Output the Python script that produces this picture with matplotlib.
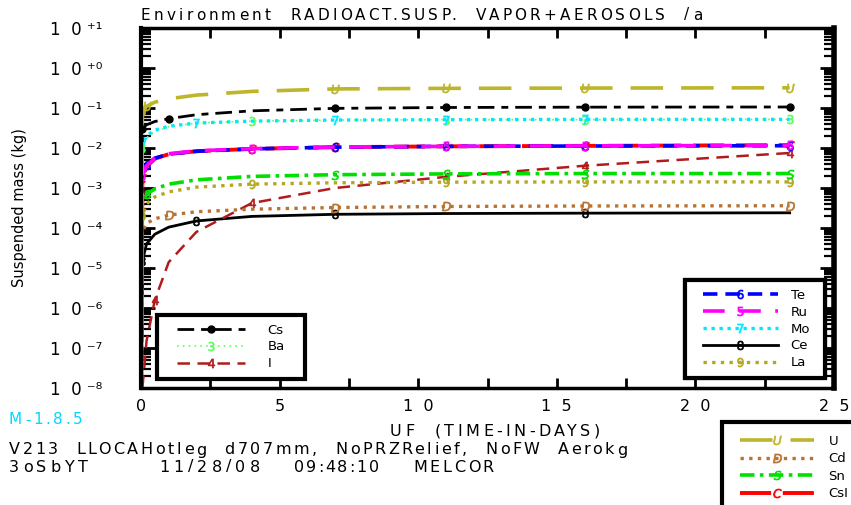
import math
import matplotlib
matplotlib.use("Agg")
import matplotlib.pyplot as plt
from matplotlib.ticker import FixedLocator, FuncFormatter, LogLocator, MultipleLocator, NullFormatter
from matplotlib.font_manager import FontProperties
from matplotlib.lines import Line2D
from matplotlib.legend_handler import HandlerLine2D
from matplotlib.patches import Rectangle

# ---------------- data ----------------
t = [0.0, 0.05, 0.2, 0.5, 1.0, 2.0, 4.0, 7.0, 11.0, 16.0, 23.4]

U   = [1e-9, 0.08, 0.11, 0.14, 0.17, 0.21, 0.26, 0.30, 0.31, 0.315, 0.32]
Cs  = [1e-9, 0.030, 0.038, 0.046, 0.054, 0.068, 0.085, 0.098, 0.103, 0.105, 0.106]
Mo  = [1e-9, 0.012, 0.020, 0.028, 0.035, 0.042, 0.047, 0.050, 0.051, 0.052, 0.052]
Ba  = [1e-9, 0.010, 0.018, 0.026, 0.034, 0.042, 0.047, 0.050, 0.051, 0.051, 0.052]
Te  = [1e-9, 2.2e-3, 3.8e-3, 5.6e-3, 7.0e-3, 8.3e-3, 9.5e-3, 0.0105, 0.011, 0.0112, 0.0114]
Ru  = [1e-9, 2.0e-3, 3.6e-3, 5.5e-3, 7.2e-3, 8.5e-3, 9.6e-3, 0.0106, 0.011, 0.0113, 0.0116]
CsI = [1e-9, 1.8e-3, 3.4e-3, 5.4e-3, 7.0e-3, 8.3e-3, 9.5e-3, 0.0105, 0.011, 0.0113, 0.0118]
Sn  = [1e-9, 4e-4, 7e-4, 9.5e-4, 1.25e-3, 1.6e-3, 1.95e-3, 2.15e-3, 2.25e-3, 2.3e-3, 2.3e-3]
La  = [1e-9, 2e-4, 4e-4, 6e-4, 8e-4, 1.05e-3, 1.25e-3, 1.35e-3, 1.4e-3, 1.42e-3, 1.42e-3]
Cd  = [1e-9, 8e-5, 1.3e-4, 1.7e-4, 2.1e-4, 2.55e-4, 2.95e-4, 3.25e-4, 3.45e-4, 3.55e-4, 3.6e-4]
Ce  = [1e-9, 1.5e-5, 4e-5, 7e-5, 1.05e-4, 1.5e-4, 1.95e-4, 2.2e-4, 2.3e-4, 2.35e-4, 2.4e-4]
I   = [1e-9, 1e-8, 1.5e-7, 1.6e-6, 1.4e-5, 8e-5, 4.2e-4, 1.0e-3, 1.9e-3, 3.6e-3, 7.5e-3]

y_ticks_exp = list(range(-8, 2))

title_text = "Environment  RADIOACT.SUSP.  VAPOR+AEROSOLS  /a"
xlabel_text = "UF  (TIME-IN-DAYS)"
ylabel_text = "Suspended mass (kg)"
version_text = "M-1.8.5"
line1_text = "V213  LLOCAHotleg  d707mm,  NoPRZRelief,  NoFW  Aerokg"
line2_words = ["3oSbYT", "11/28/08", "09:48:10", "MELCOR"]

# ---------------- styles ----------------
styles = {
    "U":   dict(color="#bdb52a", lw=2.6, dashes=[9, 5], marker="$U$", mk=(0.02, 0.197)),
    "Cs":  dict(color="black", lw=2.0, dashes=[6, 2.5, 2.5, 2.5], marker="o", mk=(0.03, 0.197)),
    "Mo":  dict(color="#00e8ff", lw=2.4, dashes=[1, 1.4], marker="$7$", mk=(0.06, 0.197)),
    "Ba":  dict(color="#5dff5d", lw=1.2, dashes=[1, 2.5], marker="$3$", mk=(0.12, 0.197)),
    "Te":  dict(color="#0000ff", lw=2.6, dashes=[4, 2.2], marker="$6$", mk=(0.14, 0.197)),
    "Ru":  dict(color="#ff00ff", lw=2.6, dashes=[6, 4], marker="$5$", mk=(0.08, 0.197)),
    "CsI": dict(color="#ff0000", lw=2.8, dashes=[8, 3], marker="$C$", mk=(0.05, 0.197)),
    "Sn":  dict(color="#00e000", lw=2.6, dashes=[4, 1.5, 1, 1.5], marker="$S$", mk=(0.10, 0.197)),
    "La":  dict(color="#b3a820", lw=2.4, dashes=[1, 1.6], marker="$9$", mk=(0.04, 0.197)),
    "Cd":  dict(color="#b87333", lw=2.4, dashes=[1, 1.6], marker="$D$", mk=(0.09, 0.197)),
    "Ce":  dict(color="black", lw=2.0, dashes=None, marker="$8$", mk=(0.13, 0.197)),
    "I":   dict(color="#b01c1c", lw=1.8, dashes=[5, 3], marker="$4$", mk=(0.15, 0.197)),
}
series = {"U": U, "Cs": Cs, "Mo": Mo, "Ba": Ba, "Te": Te, "Ru": Ru, "CsI": CsI,
          "Sn": Sn, "La": La, "Cd": Cd, "Ce": Ce, "I": I}

W, H = 851, 505
AX_L, AX_R, AX_T, AX_B = 141, 834, 28, 388
plt.rcParams["font.family"] = ["DejaVu Sans"]
fig = plt.figure(figsize=(W / 100, H / 100), dpi=100)
ax = fig.add_axes([AX_L / W, 1 - AX_B / H, (AX_R - AX_L) / W, (AX_B - AX_T) / H])

handles = {}
for name in ["Ce", "I", "Cd", "La", "Sn", "CsI", "Te", "Ru", "Ba", "Mo", "Cs", "U"]:
    s = styles[name]
    ln, = ax.plot(t, series[name], color=s["color"], lw=s["lw"],
                  marker=s["marker"], markersize=6.5 if s["marker"] != "o" else 5,
                  markevery=s["mk"], markeredgewidth=0.5 if s["marker"] != "o" else 1,
                  label=name)
    if s["dashes"] is not None:
        ln.set_dashes(s["dashes"])
    handles[name] = ln

ax.set_yscale("log")
ax.set_ylim(1e-8, 10)
ax.set_xlim(0, 25)

SUP = {"0": "\u2070", "1": "\u00b9", "2": "\u00b2", "3": "\u00b3", "4": "\u2074",
       "5": "\u2075", "6": "\u2076", "7": "\u2077", "8": "\u2078", "9": "\u2079",
       "+": "\u207a", "-": "\u207b"}

ax.yaxis.set_major_locator(FixedLocator([10.0 ** e for e in y_ticks_exp]))
def yfmt(v, pos):
    e = int(round(math.log10(v)))
    s = ("+%d" % e) if e >= 0 else ("-%d" % (-e))
    return "1  0 " + "".join(SUP[c] for c in s)
ax.yaxis.set_major_formatter(FuncFormatter(yfmt))
ax.yaxis.set_minor_locator(LogLocator(base=10, subs=range(2, 10), numticks=100))
ax.yaxis.set_minor_formatter(NullFormatter())

ax.xaxis.set_major_locator(MultipleLocator(2.5))
def xfmt(v, pos):
    if abs(v - round(v)) < 1e-6 and int(round(v)) % 5 == 0:
        return "  ".join(str(int(round(v))))
    return ""
ax.xaxis.set_major_formatter(FuncFormatter(xfmt))

ax.tick_params(axis="both", which="both", direction="in", top=True, right=True, colors="black")
ax.tick_params(axis="x", which="major", length=7, width=2, labelsize=11.5, pad=8)
ax.tick_params(axis="y", which="major", length=10, width=2, labelsize=12, pad=28)
ax.tick_params(axis="y", which="minor", length=7, width=1.6)
for sp in ax.spines.values():
    sp.set_linewidth(2.5)
ax.spines["right"].set_linewidth(4)
ax.spines["left"].set_linewidth(3)

ax.set_ylabel(ylabel_text, fontsize=10.5)
ax.yaxis.set_label_coords(-(AX_L - 27) / (AX_R - AX_L), 0.5)

renderer = fig.canvas.get_renderer()

def tracked(s, x0, x1, yc, size, color="black"):
    prop = FontProperties(family="DejaVu Sans", size=size)
    def w(sub):
        if not sub:
            return 0.0
        return renderer.get_text_width_height_descent(sub, prop, ismath=False)[0]
    full = w(s)
    n = len(s)
    extra = (x1 - x0 - full) / max(n - 1, 1)
    for i, ch in enumerate(s):
        if ch == " ":
            continue
        pos = w(s[:i] + ch) - w(ch)
        x = x0 + pos + i * extra
        fig.text(x / W, 1 - yc / H, ch, fontproperties=prop, va="center", ha="left", color=color)

tracked(title_text, 141, 702, 15, 11)
tracked(xlabel_text, 390, 600, 431, 11.5)
tracked(version_text, 9, 83, 420, 11, color="#00d8ff")
tracked(line1_text, 9, 627, 450, 11.5)
for word, (x0, x1) in zip(line2_words, [(9, 88), (159, 260), (294, 379), (413, 494)]):
    tracked(word, x0, x1, 467, 11.5)

FS = 9.5
FS_PX = FS * 100 / 72

def make_legend(target, names, box, transform, loc, xpad_px, hl_px, htp_px,
                expand=True, frame=True, spacing=0.3):
    kw = dict(mode="expand") if expand else {}
    leg = target.legend([handles[n] for n in names], names, frameon=frame,
                        fancybox=False, edgecolor="black", framealpha=1,
                        handlelength=hl_px / FS_PX, handletextpad=htp_px / FS_PX, numpoints=1,
                        fontsize=FS, borderpad=0.65, labelspacing=spacing,
                        borderaxespad=0, loc=loc,
                        bbox_to_anchor=box, bbox_transform=transform,
                        handler_map={Line2D: HandlerLine2D(xpad=xpad_px / FS_PX)}, **kw)
    if frame:
        leg.get_frame().set_linewidth(3)
    return leg

def ax_box(x0, x1, ybottom):
    return ((x0 - AX_L) / (AX_R - AX_L), (AX_B - ybottom) / (AX_B - AX_T),
            (x1 - x0) / (AX_R - AX_L), 0.0)

leg1 = make_legend(ax, ["Cs", "Ba", "I"], ax_box(157, 305, 379), ax.transAxes,
                   "lower left", 11, 79, 23)
ax.add_artist(leg1)
leg2 = make_legend(ax, ["Te", "Ru", "Mo", "Ce", "La"], ax_box(685, 825, 378), ax.transAxes,
                   "lower left", 9, 84, 13)
ax.add_artist(leg2)

# third legend sits partly outside the figure (cut at right and bottom edges)
fig.patches.append(Rectangle((722 / W, -0.1), 0.3, (1 - 422 / H) + 0.1,
                             transform=fig.transFigure, facecolor="white",
                             edgecolor="black", linewidth=3, zorder=3))
leg3 = make_legend(fig, ["U", "Cd", "Sn", "CsI"], (722 / W, 1 - 426 / H),
                   fig.transFigure, "upper left", 9, 83, 15,
                   expand=False, frame=False, spacing=0.35)
leg3.set_zorder(5)

fig.savefig("out.png", dpi=100)
